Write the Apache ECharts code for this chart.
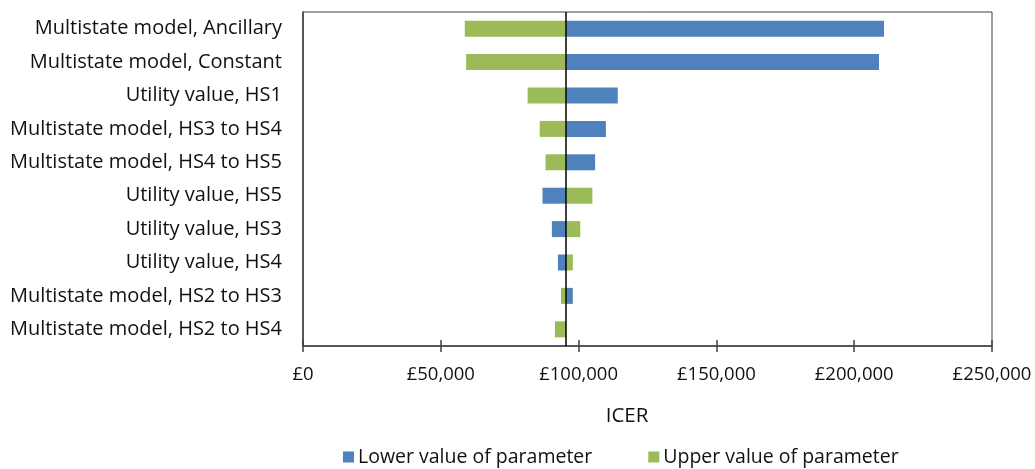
<!DOCTYPE html>
<html><head><meta charset="utf-8">
<script src="https://cdn.jsdelivr.net/npm/echarts@6/dist/echarts.min.js"></script>
<style>html,body{margin:0;padding:0;background:#fff}#c{width:1035px;height:469px}</style>
</head><body><div id="c"></div>
<script>
const categories = [
  'Multistate model, Ancillary',
  'Multistate model, Constant',
  'Utility value, HS1',
  'Multistate model, HS3 to HS4',
  'Multistate model, HS4 to HS5',
  'Utility value, HS5',
  'Utility value, HS3',
  'Utility value, HS4',
  'Multistate model, HS2 to HS3',
  'Multistate model, HS2 to HS4'
];
const baseICER = 95500;
const lowerValues = [210800, 209000, 114200, 109900, 106000, 86900, 90300, 92500, 97900, 95500];
const upperValues = [58700, 59200, 81500, 85900, 88000, 105000, 100600, 97900, 93600, 91400];
const xTicks = [0, 50000, 100000, 150000, 200000, 250000];

const FONT = '"Open Sans", sans-serif';
const TXT = '#111';
const offs = arr => arr.map(v => Math.min(v, baseICER));
const lens = arr => arr.map(v => Math.abs(v - baseICER));
const fmt = v => '£' + v.toLocaleString('en-GB');

const chart = echarts.init(document.getElementById('c'));
chart.setOption({
  animation: false,
  textStyle: { fontFamily: FONT },
  grid: { left: 303, right: 43, top: 12, bottom: 123, show: true, borderColor: '#404040', borderWidth: 1 },
  legend: {
    data: ['Lower value of parameter', 'Upper value of parameter'],
    left: 338, top: 447, padding: [0, 5, 0, 5], icon: 'rect', itemWidth: 11, itemHeight: 11, itemGap: 56,
    textStyle: { fontSize: 19.5, color: TXT, fontFamily: FONT, padding: [0, 0, 0, -1] }
  },
  title: {
    text: 'ICER', left: 622, top: 401, textAlign: 'center',
    textStyle: { fontSize: 20.5, fontWeight: 'normal', color: TXT, fontFamily: FONT }
  },
  xAxis: [{
    type: 'value', min: 0, max: 250000, interval: 50000, position: 'bottom',
    axisLine: { show: true, lineStyle: { color: '#404040', width: 1.5 } },
    axisTick: { show: true, length: 6, lineStyle: { color: '#404040', width: 1.5 } },
    splitLine: { show: false },
    axisLabel: { margin: 19, fontSize: 18.5, color: TXT, fontFamily: FONT, formatter: fmt,
      customValues: xTicks }
  }, {
    type: 'value', min: 0, max: 250000, interval: 50000, position: 'bottom', offset: 0,
    axisLine: { show: false },
    axisTick: { show: true, inside: true, length: 6, lineStyle: { color: '#404040', width: 1.5 } },
    splitLine: { show: false }, axisLabel: { show: false }
  }],
  yAxis: {
    type: 'category', data: categories, inverse: true,
    axisLine: { show: true, lineStyle: { color: '#404040', width: 1.5 } },
    axisTick: { show: false },
    axisLabel: { margin: 21, fontSize: 20, color: TXT, fontFamily: FONT }
  },
  series: [
    { name: 'lowBase', type: 'bar', stack: 'low', data: offs(lowerValues), barWidth: 16, barGap: '-100%',
      itemStyle: { color: 'transparent' }, silent: true },
    { name: 'Lower value of parameter', type: 'bar', stack: 'low', data: lens(lowerValues), barWidth: 16, barGap: '-100%',
      itemStyle: { color: '#4F81BD' } },
    { name: 'upBase', type: 'bar', stack: 'up', data: offs(upperValues), barWidth: 16, barGap: '-100%',
      itemStyle: { color: 'transparent' }, silent: true },
    { name: 'Upper value of parameter', type: 'bar', stack: 'up', data: lens(upperValues), barWidth: 16, barGap: '-100%',
      itemStyle: { color: '#9BBB59' },
      markLine: { silent: true, symbol: 'none', label: { show: false },
        lineStyle: { color: '#000', width: 1.5, type: 'solid' },
        data: [{ xAxis: baseICER }] } }
  ]
});
</script></body></html>
